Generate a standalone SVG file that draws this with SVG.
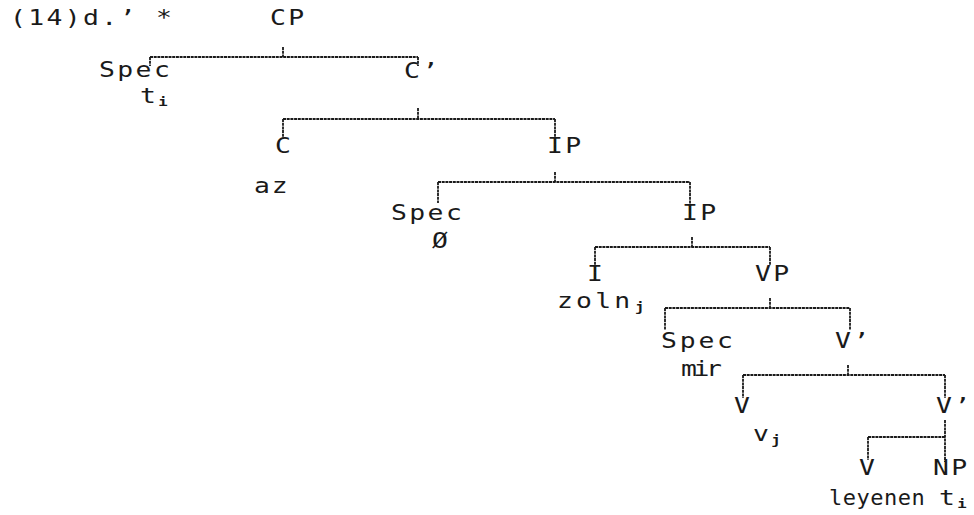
<svg xmlns="http://www.w3.org/2000/svg" width="974" height="515" viewBox="0 0 974 515">
<style>
text{font-family:"DejaVu Sans Mono","Liberation Mono",monospace;font-size:22px;fill:#1a1a1a;letter-spacing:2px}
.sub{font-size:13px;font-weight:bold;letter-spacing:0}
.c line{stroke:#1a1a1a;stroke-width:1.8;stroke-dasharray:3 0.7}
</style>
<rect width="974" height="515" fill="#fff"/>
<g class="c" id="connectors">
<line x1="150" y1="57" x2="418" y2="57"/><line x1="283" y1="47" x2="283" y2="57"/><line x1="150" y1="57" x2="150" y2="66"/><line x1="418" y1="57" x2="418" y2="66"/>
<line x1="283" y1="119" x2="555" y2="119"/><line x1="418" y1="108" x2="418" y2="119"/><line x1="283" y1="119" x2="283" y2="138"/><line x1="555" y1="119" x2="555" y2="152"/>
<line x1="438" y1="182" x2="690" y2="182"/><line x1="555" y1="172" x2="555" y2="182"/><line x1="438" y1="182" x2="438" y2="203"/><line x1="690" y1="182" x2="690" y2="219"/>
<line x1="595" y1="247" x2="770" y2="247"/><line x1="692" y1="237" x2="692" y2="247"/><line x1="595" y1="247" x2="595" y2="280"/><line x1="770" y1="247" x2="770" y2="265"/>
<line x1="665" y1="308" x2="850" y2="308"/><line x1="770" y1="298" x2="770" y2="308"/><line x1="665" y1="308" x2="665" y2="330"/><line x1="850" y1="308" x2="850" y2="330"/>
<line x1="743" y1="375" x2="945" y2="375"/><line x1="848" y1="365" x2="848" y2="375"/><line x1="743" y1="375" x2="743" y2="398"/><line x1="945" y1="375" x2="945" y2="398"/>
<line x1="868" y1="437" x2="945" y2="437"/><line x1="945" y1="420" x2="945" y2="462"/><line x1="868" y1="437" x2="868" y2="460"/>
</g>
<g id="label"><text transform="translate(10 25) scale(1.2 1)" textLength="137">(14)d.’ *</text></g>
<g id="CP"><text transform="translate(270 25) scale(1.2 1)">CP</text></g>
<g id="Spec1"><text transform="translate(99 77) scale(1.2 1)" textLength="61">Spec</text><text transform="translate(140 103) scale(1.2 1)">t<tspan class="sub" dy="3">i</tspan></text></g>
<g id="Cbar"><text transform="translate(404 78) scale(1.2 1)">C’</text></g>
<g id="C"><text transform="translate(275 153) scale(1.2 1)">C</text><text transform="translate(254 193) scale(1.2 1)" textLength="30">az</text></g>
<g id="IP1"><text transform="translate(547 153) scale(1.2 1)">IP</text></g>
<g id="Spec2"><text transform="translate(391 220) scale(1.2 1)" textLength="61">Spec</text><text transform="translate(432 248) scale(1.2 1)">Ø</text></g>
<g id="IP2"><text transform="translate(682 220) scale(1.2 1)">IP</text></g>
<g id="I"><text transform="translate(587 281) scale(1.2 1)">I</text><text transform="translate(557 308) scale(1.2 1)" textLength="63">zoln</text><text transform="translate(635 311) scale(1.2 1)" class="sub">j</text></g>
<g id="VP"><text transform="translate(755 281) scale(1.2 1)">VP</text></g>
<g id="Spec3"><text transform="translate(661 348) scale(1.2 1)" textLength="62">Spec</text><text transform="translate(681 376) scale(1.2 1)" textLength="36">mir</text></g>
<g id="Vbar1"><text transform="translate(835 348) scale(1.2 1)">V’</text></g>
<g id="V1"><text transform="translate(734 413) scale(1.2 1)">V</text><text transform="translate(753 441) scale(1.2 1)">v<tspan class="sub" dy="3">j</tspan></text></g>
<g id="Vbar2"><text transform="translate(936 413) scale(1.2 1)">V’</text></g>
<g id="V2"><text transform="translate(859 475) scale(1.2 1)">V</text><text x="829" y="505" style="letter-spacing:0.5px">leyenen</text></g>
<g id="NP"><text transform="translate(933 475) scale(1.2 1)">NP</text><text transform="translate(939 505) scale(1.2 1)">t<tspan class="sub" dy="3">i</tspan></text></g>
</svg>
